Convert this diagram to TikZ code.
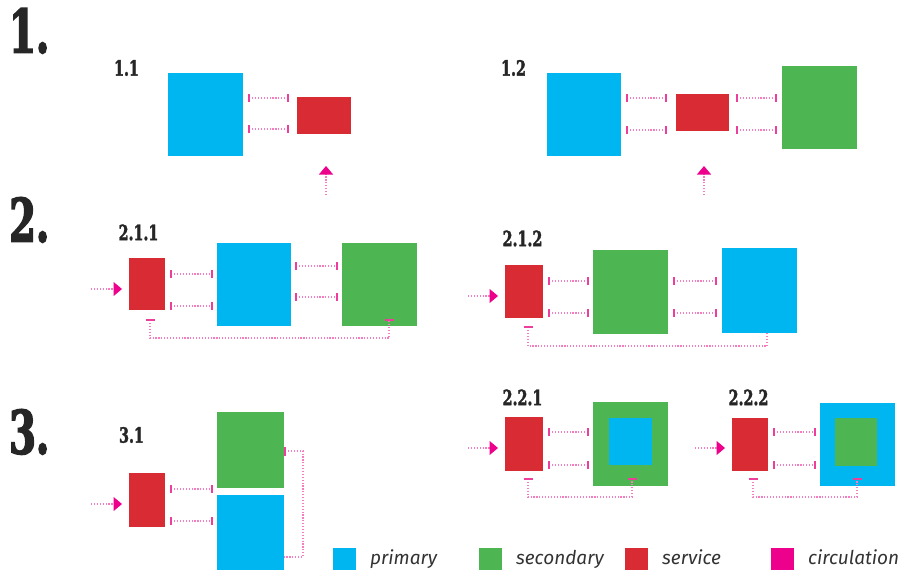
\documentclass[tikz,border=0pt]{standalone}
\usepackage{fontspec}
\setmainfont{Fira Sans}
\newfontfamily\slabfont{DejaVu Serif}[BoldFont={DejaVu Serif Bold}, FakeStretch=0.68, FakeBold=1.6]
\newfontfamily\bigslabfont{DejaVu Serif}[BoldFont={DejaVu Serif Bold}, FakeStretch=0.64, FakeBold=2.5]
\usetikzlibrary{arrows.meta,calc}

\definecolor{primaryblue}{HTML}{00B6F0}
\definecolor{secondarygreen}{HTML}{4DB552}
\definecolor{servicered}{HTML}{D82B34}
\definecolor{circmagenta}{HTML}{EC008C}
\definecolor{linkpink}{HTML}{F37DC0}
\definecolor{tickpink}{HTML}{EC3F9C}
\definecolor{ink}{HTML}{262626}
\definecolor{legendink}{HTML}{333333}

\tikzset{
  zone/.style={rectangle, draw=none, inner sep=0pt, outer sep=0pt},
  dots/.style={draw=linkpink, line width=1.2pt, dash pattern=on 1.2pt off 1.7pt},
  link/.style={dots,
    {Bar[width=8pt,line width=1.6pt,color=tickpink]}-{Bar[width=8pt,line width=1.6pt,color=tickpink]}},
  loopline/.style={dots,
    {Bar[width=9pt,line width=1.6pt,color=tickpink]}-{Bar[width=9pt,line width=1.6pt,color=tickpink]}},
  openloop/.style={dots, {Bar[width=9pt,line width=1.6pt,color=tickpink]}-},
  entry/.style={dots, -{Triangle[width=14pt,length=8.5pt,color=circmagenta]}},
  part/.style={font=\bigslabfont\bfseries\fontsize{60}{60}\selectfont, text=ink,
    inner sep=0pt, anchor=north west},
  sublabel/.style={font=\slabfont\bfseries\fontsize{21}{21}\selectfont, text=ink,
    inner sep=0pt},
  key/.style={font=\itshape\fontsize{19}{19}\selectfont, text=legendink,
    inner sep=0pt, anchor=base west}
}

% a filled block given by its corners (x1,y1) and (x2,y2)
\newcommand\zone[6]{%
  \node[zone, fill=#6, minimum width={(#4)-(#2)}, minimum height={(#5)-(#3)}]
    (#1) at ({((#2)+(#4))/2},{((#3)+(#5))/2}) {};}

\begin{document}
\begin{tikzpicture}[x=1pt,y=-1pt]
\fill[white] (0,0) rectangle (901,571);
\useasboundingbox (0,0) rectangle (901,571);

% section numbers
\node[part] (p1) at (9,8) {1.};
\node[part] (p2) at (9,197) {2.};
\node[part] (p3) at (9,409) {3.};

% ---------- 1.1 ----------
\node[sublabel] (t11) at (126.5,68) {1.1};
\zone{b11}{168}{73}{243}{156}{primaryblue}
\zone{r11}{297}{97}{351}{134}{servicered}
\draw[link] ([xshift=5pt]b11.east |- 0,98)  -- ([xshift=-8pt]r11.west |- 0,98);
\draw[link] ([xshift=5pt]b11.east |- 0,129) -- ([xshift=-8pt]r11.west |- 0,129);
\coordinate (c11) at (326,195);
\draw[entry, shorten >=32pt] (c11) -- (r11.south -| c11);

% ---------- 1.2 ----------
\node[sublabel] (t12) at (513.5,68) {1.2};
\zone{b12}{547}{73}{621}{156}{primaryblue}
\zone{r12}{676}{94}{729}{131}{servicered}
\zone{g12}{782}{66}{857}{149}{secondarygreen}
\draw[link] ([xshift=5pt]b12.east |- 0,98)  -- ([xshift=-9pt]r12.west |- 0,98);
\draw[link] ([xshift=5pt]b12.east |- 0,130) -- ([xshift=-9pt]r12.west |- 0,130);
\draw[link] ([xshift=7pt]r12.east |- 0,98)  -- ([xshift=-5pt]g12.west |- 0,98);
\draw[link] ([xshift=7pt]r12.east |- 0,130) -- ([xshift=-5pt]g12.west |- 0,130);
\coordinate (c12) at (704,195);
\draw[entry, shorten >=35pt] (c12) -- (r12.south -| c12);

% ---------- 2.1.1 ----------
\node[sublabel] (t211) at (138.5,232.5) {2.1.1};
\zone{r211}{129}{258}{165}{310}{servicered}
\zone{b211}{217}{243}{291}{326}{primaryblue}
\zone{g211}{342}{243}{417}{326}{secondarygreen}
\draw[link] ([xshift=5pt]r211.east |- 0,274) -- ([xshift=-4pt]b211.west |- 0,274);
\draw[link] ([xshift=5pt]r211.east |- 0,306) -- ([xshift=-4pt]b211.west |- 0,306);
\draw[link] ([xshift=4pt]b211.east |- 0,266) -- ([xshift=-4pt]g211.west |- 0,266);
\draw[link] ([xshift=4pt]b211.east |- 0,297) -- ([xshift=-4pt]g211.west |- 0,297);
\coordinate (c211) at (91,289);
\draw[entry, shorten >=7pt] (c211) -- (r211.west |- c211);
\draw[loopline] ($(r211.south)+(3,9)$) -- ++(0,19) -| ($(g211.south east)+(-28,-7)$);

% ---------- 2.1.2 ----------
\node[sublabel] (t212) at (522.5,238.5) {2.1.2};
\zone{r212}{505}{265}{543}{318}{servicered}
\zone{g212}{593}{250}{668}{334}{secondarygreen}
\zone{b212}{722}{248}{797}{333}{primaryblue}
\draw[link] ([xshift=5pt]r212.east |- 0,281) -- ([xshift=-4pt]g212.west |- 0,281);
\draw[link] ([xshift=5pt]r212.east |- 0,313) -- ([xshift=-4pt]g212.west |- 0,313);
\draw[link] ([xshift=5pt]g212.east |- 0,281) -- ([xshift=-5pt]b212.west |- 0,281);
\draw[link] ([xshift=5pt]g212.east |- 0,313) -- ([xshift=-5pt]b212.west |- 0,313);
\coordinate (c212) at (468,296);
\draw[entry, shorten >=7pt] (c212) -- (r212.west |- c212);
\draw[openloop] ($(r212.south)+(4,8)$) -- ++(0,20) -| ($(b212.south)+(7.5,0)$);

% ---------- 3.1 ----------
\node[sublabel] (t31) at (131.5,435) {3.1};
\zone{r31}{129}{473}{165}{527}{servicered}
\zone{g31}{217}{412}{284}{488}{secondarygreen}
\zone{b31}{217}{495}{284}{570}{primaryblue}
\draw[link] ([xshift=5pt]r31.east |- 0,489) -- ([xshift=-4pt]g31.west |- 0,489);
\draw[link] ([xshift=5pt]r31.east |- 0,521) -- ([xshift=-4pt]b31.west |- 0,521);
\coordinate (c31) at (91,504);
\draw[entry, shorten >=7pt] (c31) -- (r31.west |- c31);
\draw[openloop] (g31.east |- 0,451) -- ++(19,0) |- (b31.east |- 0,557);

% ---------- 2.2.1 ----------
\node[sublabel] (t221) at (522.5,397.5) {2.2.1};
\zone{r221}{505}{417}{543}{471}{servicered}
\zone{g221}{593}{402}{668}{486}{secondarygreen}
\zone{bi221}{609}{418}{652}{465}{primaryblue}
\draw[link] ([xshift=5pt]r221.east |- 0,432) -- ([xshift=-4pt]g221.west |- 0,432);
\draw[link] ([xshift=5pt]r221.east |- 0,465) -- ([xshift=-4pt]g221.west |- 0,465);
\coordinate (c221) at (468,448);
\draw[entry, shorten >=7pt] (c221) -- (r221.west |- c221);
\draw[loopline] ($(r221.south)+(4,7)$) -- ++(0,19) -| ($(g221.south)+(1.5,-8)$);

% ---------- 2.2.2 ----------
\node[sublabel] (t222) at (748.5,397.5) {2.2.2};
\zone{r222}{732}{418}{768}{471}{servicered}
\zone{b222}{820}{403}{895}{486}{primaryblue}
\zone{gi222}{835}{418}{877}{466}{secondarygreen}
\draw[link] ([xshift=5pt]r222.east |- 0,432) -- ([xshift=-4pt]b222.west |- 0,432);
\draw[link] ([xshift=5pt]r222.east |- 0,465) -- ([xshift=-4pt]b222.west |- 0,465);
\coordinate (c222) at (695,448);
\draw[entry, shorten >=7pt] (c222) -- (r222.west |- c222);
\draw[loopline] ($(r222.south)+(3,7)$) -- ++(0,19) -| ($(b222.south)+(-0.5,-8)$);

% ---------- legend ----------
\zone{kb}{333}{548}{356}{570}{primaryblue}
\zone{kg}{479}{548}{502}{570}{secondarygreen}
\zone{kr}{625}{548}{648}{570}{servicered}
\zone{km}{771}{548}{794}{570}{circmagenta}
\node[key] (lb) at (370,564) {primary};
\node[key] (lg) at (516,564) {secondary};
\node[key] (lr) at (662,564) {service};
\node[key] (lm) at (808,564) {circulation};
\end{tikzpicture}
\end{document}
